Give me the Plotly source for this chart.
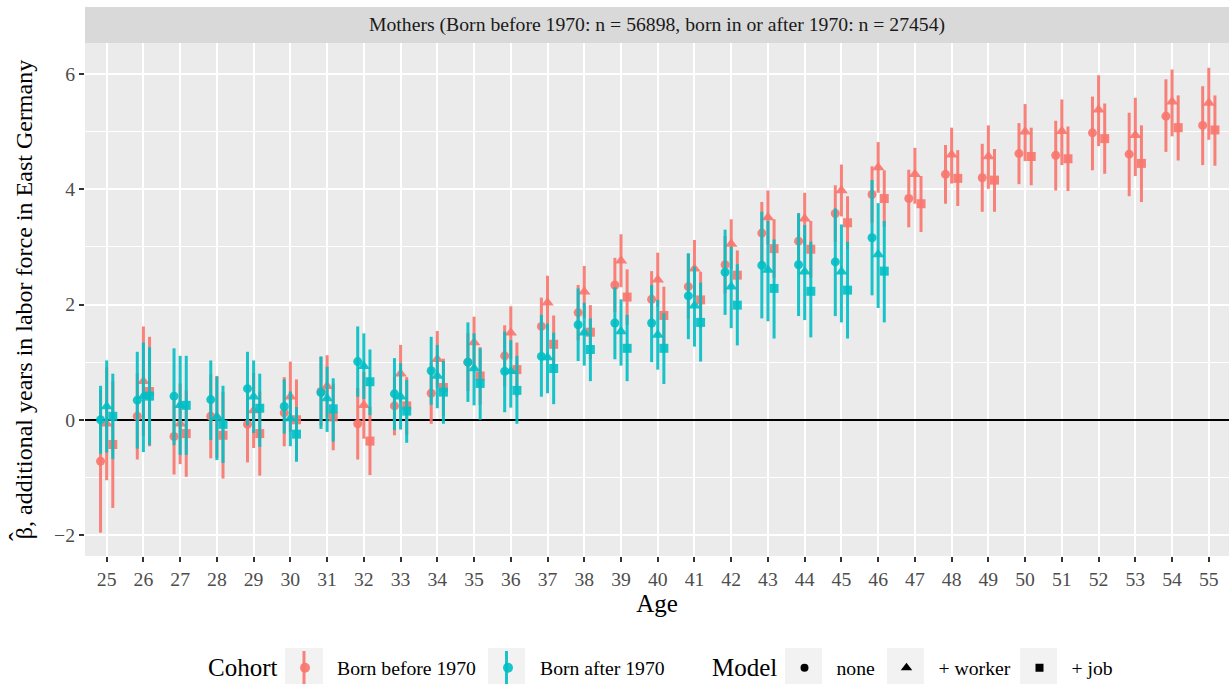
import plotly.graph_objects as go

ages_before = list(range(25, 56))
ages_after = list(range(25, 47))

before_none = [-0.72, 0.06, -0.29, 0.06, -0.08, 0.12, 0.49, -0.07, 0.24, 0.46, 1.00, 1.11, 1.62, 1.86, 2.34, 2.09,
               2.31, 2.69, 3.24, 3.10, 3.58, 3.91, 3.84, 4.26, 4.20, 4.62, 4.59, 4.98, 4.61, 5.27, 5.11]
before_none_lo = [-1.96, -0.69, -0.95, -0.67, -0.74, -0.46, -0.11, -0.69, -0.27, -0.07, 0.50, 0.58, 1.12, 1.38, 1.87,
                  1.60, 1.76, 2.19, 2.70, 2.61, 3.09, 3.42, 3.34, 3.75, 3.61, 4.09, 3.98, 4.33, 3.88, 4.65, 4.42]
before_none_hi = [0.52, 0.81, 0.37, 0.79, 0.58, 0.74, 1.09, 0.55, 0.75, 0.99, 1.50, 1.64, 2.12, 2.34, 2.81, 2.58,
                  2.88, 3.19, 3.78, 3.59, 4.07, 4.40, 4.34, 4.77, 4.79, 5.15, 5.19, 5.61, 5.33, 5.91, 5.79]

before_worker = [-0.07, 0.67, -0.07, 0.05, 0.16, 0.40, 0.58, 0.25, 0.80, 1.05, 1.34, 1.51, 2.03, 2.22, 2.76, 2.43,
                 2.62, 3.05, 3.51, 3.49, 3.98, 4.38, 4.26, 4.60, 4.57, 5.00, 5.01, 5.38, 4.94, 5.52, 5.50]
before_worker_lo = [-1.05, -0.28, -0.77, -0.66, -0.49, -0.21, 0.04, -0.33, 0.30, 0.56, 0.89, 1.05, 1.56, 1.77, 2.30,
                    1.96, 2.12, 2.62, 3.04, 3.04, 3.53, 3.94, 3.75, 4.10, 4.01, 4.49, 4.42, 4.75, 4.23, 4.92, 4.86]
before_worker_hi = [0.91, 1.62, 0.63, 0.76, 0.81, 1.01, 1.12, 0.83, 1.30, 1.54, 1.79, 1.97, 2.50, 2.67, 3.22, 2.90,
                    3.12, 3.48, 3.98, 3.94, 4.43, 4.82, 4.72, 5.07, 5.11, 5.48, 5.56, 5.98, 5.59, 6.08, 6.11]

before_job = [-0.43, 0.49, -0.24, -0.27, -0.24, 0.00, 0.05, -0.37, 0.24, 0.56, 0.76, 0.87, 1.31, 1.52, 2.13, 1.81,
              2.08, 2.51, 2.97, 2.96, 3.42, 3.84, 3.75, 4.19, 4.16, 4.57, 4.53, 4.88, 4.45, 5.07, 5.03]
before_job_lo = [-1.53, -0.46, -0.99, -1.02, -0.97, -0.70, -0.53, -0.96, -0.26, 0.06, 0.26, 0.40, 0.81, 1.05, 1.65,
                 1.31, 1.59, 2.08, 2.46, 2.47, 2.96, 3.35, 3.26, 3.71, 3.61, 4.07, 3.97, 4.27, 3.78, 4.50, 4.41]
before_job_hi = [0.67, 1.44, 0.51, 0.48, 0.49, 0.70, 0.63, 0.22, 0.74, 1.06, 1.26, 1.34, 1.81, 1.99, 2.61, 2.31,
                 2.57, 2.94, 3.48, 3.45, 3.88, 4.33, 4.23, 4.68, 4.70, 5.07, 5.09, 5.49, 5.11, 5.63, 5.63]

after_none = [0.00, 0.34, 0.41, 0.35, 0.54, 0.23, 0.47, 1.01, 0.45, 0.85, 1.00, 0.84, 1.10, 1.65, 1.68, 1.68,
              2.15, 2.56, 2.68, 2.69, 2.74, 3.16]
after_none_lo = [-0.59, -0.50, -0.44, -0.35, -0.10, -0.24, -0.16, 0.40, -0.18, 0.26, 0.31, 0.13, 0.40, 1.02, 1.05,
                 1.00, 1.40, 1.82, 1.76, 1.80, 1.80, 2.16]
after_none_hi = [0.59, 1.18, 1.24, 1.03, 1.18, 0.70, 1.10, 1.62, 1.07, 1.44, 1.69, 1.53, 1.82, 2.28, 2.30, 2.34,
                 2.89, 3.30, 3.61, 3.58, 3.67, 4.16]

after_worker = [0.23, 0.41, 0.25, 0.05, 0.40, 0.02, 0.37, 0.93, 0.40, 0.76, 0.89, 0.84, 1.08, 1.51, 1.53, 1.47,
                1.98, 2.31, 2.60, 2.57, 2.57, 2.87]
after_worker_lo = [-0.57, -0.56, -0.61, -0.70, -0.23, -0.46, -0.21, 0.36, -0.17, 0.20, 0.25, 0.21, 0.46, 0.94, 0.94,
                   0.87, 1.27, 1.59, 1.71, 1.73, 1.69, 1.94]
after_worker_hi = [1.03, 1.34, 1.11, 0.75, 1.03, 0.49, 0.92, 1.50, 0.98, 1.30, 1.50, 1.38, 1.67, 2.03, 2.09, 2.08,
                   2.66, 3.00, 3.45, 3.38, 3.39, 3.76]

after_job = [0.06, 0.41, 0.25, -0.08, 0.20, -0.25, 0.19, 0.66, 0.15, 0.48, 0.63, 0.51, 0.89, 1.22, 1.24, 1.24,
             1.69, 1.99, 2.28, 2.23, 2.25, 2.58]
after_job_lo = [-0.68, -0.44, -0.61, -0.75, -0.47, -0.73, -0.38, 0.08, -0.40, -0.07, 0.00, -0.07, 0.27, 0.67, 0.67,
                0.62, 1.01, 1.29, 1.41, 1.43, 1.41, 1.69]
after_job_hi = [0.80, 1.26, 1.11, 0.59, 0.80, 0.22, 0.72, 1.22, 0.69, 1.02, 1.24, 1.11, 1.51, 1.76, 1.82, 1.85,
                2.38, 2.70, 3.13, 3.09, 3.09, 3.45]

cohort_names = ["Born before 1970", "Born after 1970"]
model_names = ["none", "+ worker", "+ job"]
legend_titles = ["Cohort", "Model"]
strip_text = "Mothers (Born before 1970: n = 56898, born in or after 1970: n = 27454)"
y_title = "\u03b2, additional years in labor force in East Germany"
hat = "\u02c6"
x_title = "Age"

RED = "rgba(248,118,109,0.9)"
TEAL = "rgba(0,191,196,0.9)"
cohort_colors = [RED, TEAL]
symbols = ["circle", "triangle-up", "square"]
msizes = [9, 11, 9]
dodge = [-1 / 6, 0.0, 1 / 6]
FONT = "Liberation Serif, Times New Roman, serif"

W, H = 1229, 684
ML, MR, MT, MB = 85, 0, 43, 128
PW, PH = W - ML - MR, H - MT - MB


def px_x(p):
    return (p - ML) / PW


def px_y(p):
    return (H - MB - p) / PH


series = [
    (0, ages_before, [(before_none, before_none_lo, before_none_hi),
                      (before_worker, before_worker_lo, before_worker_hi),
                      (before_job, before_job_lo, before_job_hi)]),
    (1, ages_after, [(after_none, after_none_lo, after_none_hi),
                     (after_worker, after_worker_lo, after_worker_hi),
                     (after_job, after_job_lo, after_job_hi)]),
]

fig = go.Figure()
for ci, ages, models in series:
    for mi, (y, lo, hi) in enumerate(models):
        fig.add_trace(go.Scatter(
            x=[a + dodge[mi] for a in ages], y=y, mode="markers",
            marker=dict(symbol=symbols[mi], size=msizes[mi], color=cohort_colors[ci], line=dict(width=0)),
            error_y=dict(type="data", symmetric=False,
                         array=[h - v for h, v in zip(hi, y)],
                         arrayminus=[v - l for v, l in zip(y, lo)],
                         color=cohort_colors[ci], thickness=3, width=0),
            showlegend=False, hoverinfo="skip"))

# legend entries (no data; only shown in the legends)
cohort_entry_w = [134, 120]
for ci, name in enumerate(cohort_names):
    fig.add_trace(go.Scatter(x=[None], y=[None], mode="markers", name=name,
                             marker=dict(symbol="circle", size=10, color=cohort_colors[ci]),
                             legend="legend", legendwidth=cohort_entry_w[ci]))
model_entry_w = [33, 64, 45]
for mi, name in enumerate(model_names):
    fig.add_trace(go.Scatter(x=[None], y=[None], mode="markers", name=name,
                             marker=dict(symbol=symbols[mi], size=[8, 10, 8][mi], color="black"),
                             legend="legend2", legendwidth=model_entry_w[mi]))

# facet strip
fig.add_shape(type="rect", xref="paper", yref="paper", x0=0, x1=1, y0=1, y1=1 + 36 / PH,
              fillcolor="#D9D9D9", line=dict(width=0), layer="below")
fig.add_annotation(xref="paper", yref="paper", x=0.5, y=1 + 18 / PH, text=strip_text, showarrow=False,
                   font=dict(family=FONT, size=19.7, color="#1A1A1A"), xanchor="center", yanchor="middle")

# hat over beta in the y title
fig.add_annotation(xref="paper", yref="paper", x=px_x(18), y=px_y(537), text=hat, showarrow=False,
                   textangle=-90, font=dict(family=FONT, size=26, color="black"),
                   xanchor="center", yanchor="middle")

# legend titles
for t, xp in zip(legend_titles, [206, 710]):
    fig.add_annotation(xref="paper", yref="paper", x=px_x(xp), y=px_y(667), text=t, showarrow=False,
                       font=dict(family=FONT, size=25, color="black"), xanchor="left", yanchor="middle")

# legend key backgrounds
key_boxes = [(285, 323), (488, 525), (785, 822), (887, 924), (1020, 1057)]
for x0, x1 in key_boxes:
    fig.add_shape(type="rect", xref="paper", yref="paper", x0=px_x(x0), x1=px_x(x1), y0=px_y(684), y1=px_y(648),
                  fillcolor="#F2F2F2", line=dict(width=0))
for (x0, x1), col in zip(key_boxes[:2], cohort_colors):
    xc = px_x((x0 + x1) / 2)
    fig.add_shape(type="line", xref="paper", yref="paper", x0=xc, x1=xc, y0=px_y(684), y1=px_y(651),
                  line=dict(color=col, width=3))

fig.update_layout(
    width=W, height=H,
    margin=dict(l=ML, r=MR, t=MT, b=MB, autoexpand=False),
    paper_bgcolor="white", plot_bgcolor="#EBEBEB",
    font=dict(family=FONT, color="black"),
    xaxis=dict(range=[24.41, 55.55], tickmode="array", tickvals=ages_before,
               ticks="outside", ticklen=5, tickwidth=2, tickcolor="#333333",
               tickfont=dict(family=FONT, size=19.7, color="#4D4D4D"),
               showgrid=True, gridcolor="white", gridwidth=2, zeroline=False, showline=False,
               title=dict(text=x_title, font=dict(family=FONT, size=25, color="black"), standoff=4)),
    yaxis=dict(range=[-2.365, 6.54], tickmode="array", tickvals=[-2, 0, 2, 4, 6],
               ticks="outside", ticklen=5, tickwidth=2, tickcolor="#333333",
               tickfont=dict(family=FONT, size=19.7, color="#4D4D4D"),
               showgrid=True, gridcolor="white", gridwidth=2,
               minor=dict(tickvals=[-1, 1, 3, 5], showgrid=True, gridcolor="white", gridwidth=1, ticks=""),
               zeroline=True, zerolinecolor="black", zerolinewidth=2, showline=False,
               title=dict(text=y_title, font=dict(family=FONT, size=24, color="black"), standoff=14)),
    legend=dict(orientation="h", x=px_x(273), xanchor="left", y=px_y(668), yanchor="middle",
                itemwidth=54, tracegroupgap=0,
                font=dict(family=FONT, size=19.7, color="black"), bgcolor="rgba(0,0,0,0)"),
    legend2=dict(orientation="h", x=px_x(772.5), xanchor="left", y=px_y(668), yanchor="middle",
                 itemwidth=54, tracegroupgap=0,
                 font=dict(family=FONT, size=19.7, color="black"), bgcolor="rgba(0,0,0,0)"),
)

fig.write_html("out.html", config={"displayModeBar": False},
               post_script="document.body.style.margin='0px';")
